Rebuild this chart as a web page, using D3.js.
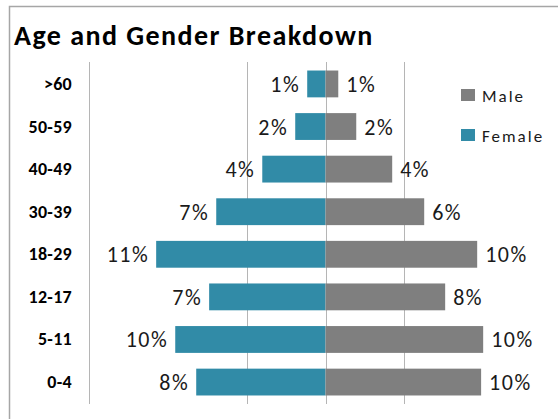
<!DOCTYPE html>
<html>
<head>
<meta charset="utf-8">
<script src="https://cdn.jsdelivr.net/npm/d3@7"></script>
<style>
  body { margin: 0; background: #fff; }
  svg { display: block; font-family: Carlito, Lato, sans-serif; }
</style>
</head>
<body>
<svg id="chart"></svg>
<script>
const categories = [">60", "50-59", "40-49", "30-39", "18-29", "12-17", "5-11", "0-4"];
const female = [1.16, 1.92, 4.01, 6.93, 10.74, 7.38, 9.53, 8.2];
const male = [0.81, 1.95, 4.23, 6.26, 9.62, 7.59, 10.0, 9.87];
const gridTicks = [-5, 0, 5];
const series = ["Male", "Female"];

const width = 558;
const height = 419;
const colours = { Male: "#7f7f7f", Female: "#318ba7" };

const svg = d3.select("#chart")
  .attr("width", width)
  .attr("height", height);

// outer chart frame (runs off the right and bottom)
svg.append("path")
  .attr("d", `M9.5,${height + 2}V6.5H${width + 2}`)
  .attr("fill", "none")
  .attr("stroke", "#a6a6a6")
  .attr("stroke-width", 1.5);

const x = d3.scaleLinear().domain([-15, 15]).range([89, 562]);
const y = d3.scaleBand()
  .domain(categories)
  .range([62, 404])
  .paddingInner(0.37)
  .paddingOuter(0.2);

// gridlines
svg.append("g")
  .selectAll("line")
  .data(gridTicks)
  .join("line")
  .attr("x1", d => Math.round(x(d)) + 0.5)
  .attr("x2", d => Math.round(x(d)) + 0.5)
  .attr("y1", 62)
  .attr("y2", 404)
  .attr("stroke", "#b5b5b5");

// left axis line
svg.append("line")
  .attr("x1", Math.round(x(-15)) + 0.5)
  .attr("x2", Math.round(x(-15)) + 0.5)
  .attr("y1", 62)
  .attr("y2", 404)
  .attr("stroke", "#b5b5b5");

const rows = categories.map((c, i) => ({ cat: c, female: female[i], male: male[i] }));

svg.append("g")
  .selectAll("rect")
  .data(rows)
  .join("rect")
  .attr("x", d => x(-d.female))
  .attr("width", d => x(0) - x(-d.female))
  .attr("y", d => y(d.cat))
  .attr("height", y.bandwidth())
  .attr("fill", colours.Female);

svg.append("g")
  .selectAll("rect")
  .data(rows)
  .join("rect")
  .attr("x", x(0))
  .attr("width", d => x(d.male) - x(0))
  .attr("y", d => y(d.cat))
  .attr("height", y.bandwidth())
  .attr("fill", colours.Male);

const mid = d => y(d.cat) + y.bandwidth() / 2 + 8;

// value labels
svg.append("g")
  .selectAll("text")
  .data(rows)
  .join("text")
  .attr("x", d => x(-d.female) - 7)
  .attr("y", mid)
  .attr("text-anchor", "end")
  .attr("font-size", 22)
  .attr("letter-spacing", 1.5)
  .attr("fill", "#1a1a1a")
  .text(d => Math.round(d.female) + "%");

svg.append("g")
  .selectAll("text")
  .data(rows)
  .join("text")
  .attr("x", d => x(d.male) + 8)
  .attr("y", mid)
  .attr("font-size", 22)
  .attr("letter-spacing", 1.5)
  .attr("fill", "#1a1a1a")
  .text(d => Math.round(d.male) + "%");

// category labels
svg.append("g")
  .selectAll("text")
  .data(rows)
  .join("text")
  .attr("x", 72)
  .attr("y", d => y(d.cat) + y.bandwidth() / 2 + 6)
  .attr("text-anchor", "end")
  .attr("font-size", 18)
  .attr("letter-spacing", 0.3)
  .attr("font-weight", "bold")
  .attr("fill", "#000")
  .text(d => d.cat);

// title
svg.append("text")
  .attr("x", 14)
  .attr("y", 45)
  .attr("font-size", 28)
  .attr("letter-spacing", 1.45)
  .attr("font-weight", "bold")
  .attr("fill", "#000")
  .text("Age and Gender Breakdown");

// legend
const legend = svg.append("g")
  .selectAll("g")
  .data(series)
  .join("g")
  .attr("transform", (d, i) => `translate(461, ${89 + i * 40})`);

legend.append("rect")
  .attr("width", 14)
  .attr("height", 12)
  .attr("fill", d => colours[d]);

legend.append("text")
  .attr("x", 21)
  .attr("y", 13)
  .attr("font-size", 17)
  .attr("letter-spacing", 2)
  .attr("fill", "#1a1a1a")
  .text(d => d);
</script>
</body>
</html>
